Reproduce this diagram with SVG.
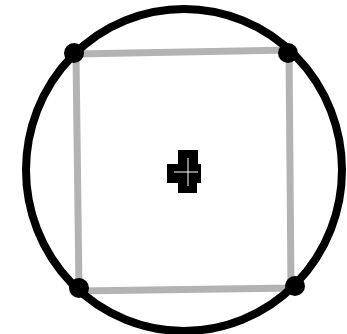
<svg xmlns="http://www.w3.org/2000/svg" width="347" height="334" viewBox="0 0 347 334">
<style>
.sq{fill:none;stroke:#b3b3b3;stroke-width:7;stroke-linejoin:miter}
.circ{fill:none;stroke:#000;stroke-width:8}
.dot{fill:#000}
</style>
<rect width="347" height="334" fill="#fff"/>
<g id="square">
<polygon class="sq" points="76,54 289,50 291,288 79,291"/>
</g>
<g id="circle">
<ellipse class="circ" cx="184" cy="170" rx="158" ry="161"/>
</g>
<g id="vertices">
<circle class="dot" cx="74" cy="53" r="10"/>
<circle class="dot" cx="288" cy="53" r="10"/>
<circle class="dot" cx="79" cy="288" r="10"/>
<circle class="dot" cx="295" cy="286" r="10"/>
</g>
<g id="center">
<path d="M178,150 H198 V164 H201 V183 H197 V193 H178 V183 H167 V164 H178 Z" fill="#000"/>
<path d="M188,158 V186 M174,172 H198" stroke="#fff" stroke-width="1" fill="none"/>
</g>
</svg>
